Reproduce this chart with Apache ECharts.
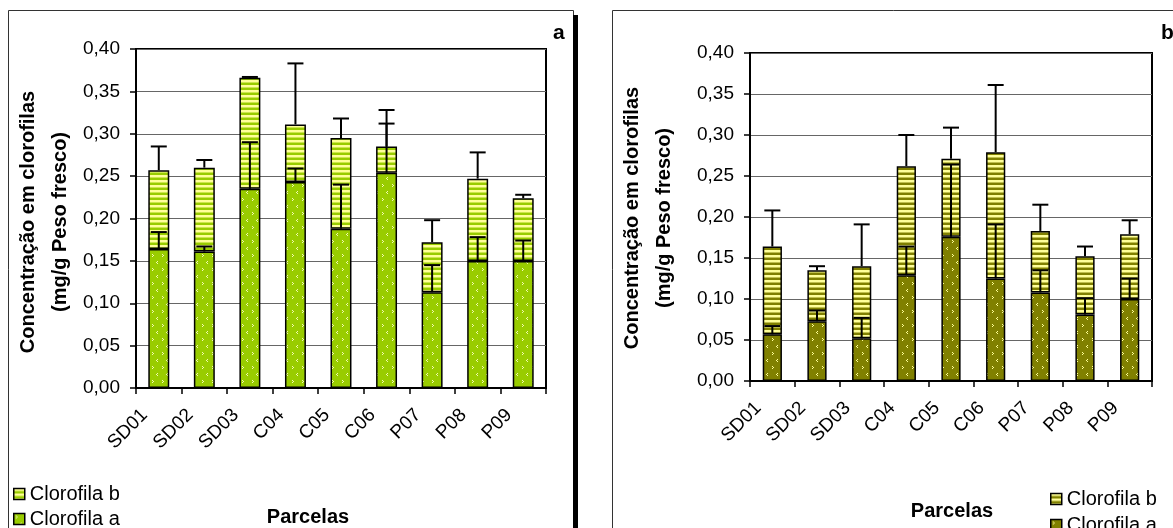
<!DOCTYPE html>
<html>
<head>
<meta charset="utf-8">
<script src="https://cdn.jsdelivr.net/npm/echarts@6/dist/echarts.min.js"></script>
<style>
  html, body { margin: 0; padding: 0; background: #fff; }
  #chart { width: 1173px; height: 528px; }
</style>
</head>
<body>
<div id="chart"></div>
<script>
// Parcelas (plots)
const categories = ['SD01', 'SD02', 'SD03', 'C04', 'C05', 'C06', 'P07', 'P08', 'P09'];

// Panel a — chlorophyll concentration (mg/g fresh weight)
const clorofilaA_a = [0.164, 0.161, 0.235, 0.243, 0.188, 0.254, 0.113, 0.150, 0.150];
const clorofilaB_a = [0.093, 0.099, 0.131, 0.068, 0.107, 0.031, 0.059, 0.097, 0.074];
const erroA_a = [0.020, 0.006, 0.055, 0.016, 0.052, 0.058, 0.032, 0.028, 0.024];
const erroB_a = [0.028, 0.009, 0.001, 0.072, 0.023, 0.043, 0.026, 0.031, 0.004];

// Panel b — chlorophyll concentration (mg/g fresh weight)
const clorofilaA_b = [0.057, 0.073, 0.052, 0.129, 0.176, 0.125, 0.108, 0.081, 0.100];
const clorofilaB_b = [0.107, 0.062, 0.088, 0.133, 0.095, 0.154, 0.075, 0.071, 0.079];
const erroA_b = [0.010, 0.013, 0.025, 0.035, 0.088, 0.066, 0.027, 0.020, 0.025];
const erroB_b = [0.044, 0.005, 0.051, 0.038, 0.038, 0.082, 0.032, 0.012, 0.017];

// Value axis ticks
const yMin = 0, yMax = 0.4, yStep = 0.05;

const FONT = 'Liberation Sans, Arial, sans-serif';

// Fill patterns: horizontal stripes and sparse chevron dots
function stripes(base, light) {
  const cv = document.createElement('canvas');
  cv.width = 4; cv.height = 5;
  const ctx = cv.getContext('2d');
  ctx.fillStyle = base; ctx.fillRect(0, 0, 4, 5);
  ctx.fillStyle = light; ctx.fillRect(0, 0, 4, 2.5);
  return { image: cv, repeat: 'repeat' };
}
function dots(base, light) {
  const cv = document.createElement('canvas');
  cv.width = 10; cv.height = 14;
  const ctx = cv.getContext('2d');
  ctx.fillStyle = base; ctx.fillRect(0, 0, 10, 14);
  ctx.fillStyle = light;
  [[2, 2], [3, 3], [2, 4], [7, 9], [6, 10], [7, 11]].forEach(p => ctx.fillRect(p[0], p[1], 1, 1));
  return { image: cv, repeat: 'repeat' };
}

const green = '#99CC00', olive = '#808000', pale = '#FFFF99';
const stripeA = stripes(green, pale), dotA = dots(green, '#F2F9B0');
const stripeB = stripes(olive, pale), dotB = dots(olive, pale);

const grids = [
  { left: 136, top: 49, width: 410, height: 339 },
  { left: 750, top: 53, width: 402, height: 328 }
];

function xAxisFor(gi) {
  return {
    type: 'category', gridIndex: gi, data: categories,
    axisLine: { lineStyle: { color: '#000', width: 2 } },
    axisTick: { show: true, interval: 0, length: 6, lineStyle: { color: '#000', width: 1.5 } },
    axisLabel: { interval: 0, rotate: 45, margin: 10, padding: [0, 20, 0, 0], color: '#000', fontFamily: FONT, fontSize: 19 }
  };
}
function yAxisFor(gi) {
  return {
    type: 'value', gridIndex: gi, min: yMin, max: yMax, interval: yStep,
    axisLine: { show: true, lineStyle: { color: '#000', width: 2 } },
    axisTick: { show: true, length: 6, lineStyle: { color: '#000', width: 1.5 } },
    axisLabel: { color: '#000', fontFamily: FONT, fontSize: 19, margin: 16,
      formatter: v => v.toFixed(2).replace('.', ',') },
    splitLine: { lineStyle: { color: '#666', width: 1 } }
  };
}

function barSeries(name, gi, data, fill) {
  return {
    name, type: 'bar', stack: 'tot' + gi, xAxisIndex: gi, yAxisIndex: gi,
    data, barWidth: gi === 0 ? '46%' : '43%',
    itemStyle: { color: fill, borderColor: '#000', borderWidth: 1.5 },
    emphasis: { disabled: true }, z: 2
  };
}

// Error bars: line from base value up to base + error, with a cap
function errorSeries(gi, bases, errs) {
  const data = bases.map((b, i) => [i, b, b + errs[i]]);
  return {
    type: 'custom', xAxisIndex: gi, yAxisIndex: gi, z: 5, silent: true,
    data,
    encode: { x: 0, y: [1, 2] },
    renderItem: (params, api) => {
      const p0 = api.coord([api.value(0), api.value(1)]);
      const p1 = api.coord([api.value(0), api.value(2)]);
      const half = 8;
      const st = { stroke: '#000', lineWidth: 2 };
      return {
        type: 'group',
        children: [
          { type: 'line', shape: { x1: p0[0], y1: p0[1], x2: p1[0], y2: p1[1] }, style: st },
          { type: 'line', shape: { x1: p1[0] - half, y1: p1[1], x2: p1[0] + half, y2: p1[1] }, style: st }
        ]
      };
    }
  };
}

const totalA = clorofilaA_a.map((v, i) => v + clorofilaB_a[i]);
const totalB = clorofilaA_b.map((v, i) => v + clorofilaB_b[i]);

const legendText = { color: '#000', fontFamily: FONT, fontSize: 20, lineHeight: 19 };

function legendFor(left, top, gap, fillB, fillA) {
  return {
    orient: 'vertical', left, top, height: 60, itemWidth: 11, itemHeight: 11, itemGap: gap,
    padding: 0, icon: 'rect', textStyle: legendText, selectedMode: false,
    data: [
      { name: 'Clorofila b', itemStyle: { color: fillB, borderColor: '#000', borderWidth: 1.5 } },
      { name: 'Clorofila a', itemStyle: { color: fillA, borderColor: '#000', borderWidth: 1.5 } }
    ]
  };
}

const option = {
  animation: false,
  grid: grids.map(g => Object.assign({ show: true, borderColor: '#000', borderWidth: 2, backgroundColor: 'transparent' }, g)),
  xAxis: [xAxisFor(0), xAxisFor(1)],
  yAxis: [yAxisFor(0), yAxisFor(1)],
  legend: [
    legendFor(13, 484, 5, stripeA, dotA),
    legendFor(1050, 489, 6, stripeB, dotB)
  ],
  series: [
    barSeries('Clorofila a', 0, clorofilaA_a, dotA),
    barSeries('Clorofila b', 0, clorofilaB_a, stripeA),
    errorSeries(0, clorofilaA_a, erroA_a),
    errorSeries(0, totalA, erroB_a),
    barSeries('Clorofila a', 1, clorofilaA_b, dotB),
    barSeries('Clorofila b', 1, clorofilaB_b, stripeB),
    errorSeries(1, clorofilaA_b, erroA_b),
    errorSeries(1, totalB, erroB_b)
  ],
  graphic: [
    // panel frames
    { type: 'rect', z: -1, shape: { x: 8.5, y: 10.5, width: 565, height: 540 }, style: { fill: 'none', stroke: '#333', lineWidth: 1 } },
    { type: 'rect', z: -1, shape: { x: 573, y: 15, width: 5, height: 540 }, style: { fill: '#000' } },
    { type: 'rect', z: -1, shape: { x: 612.5, y: 10.5, width: 620, height: 540 }, style: { fill: 'none', stroke: '#333', lineWidth: 1 } },
    // panel letters
    { type: 'text', x: 553, y: 23, style: { text: 'a', fontFamily: FONT, fontWeight: 'bold', fontSize: 21, fill: '#000' } },
    { type: 'text', x: 1161, y: 23, style: { text: 'b', fontFamily: FONT, fontWeight: 'bold', fontSize: 21, fill: '#000' } },
    // y-axis titles
    { type: 'text', x: 44, y: 222, rotation: Math.PI / 2,
      style: { text: 'Concentração em clorofilas\n(mg/g Peso fresco)', fontFamily: FONT, fontWeight: 'bold', fontSize: 20, lineHeight: 32, align: 'center', verticalAlign: 'middle', fill: '#000' } },
    { type: 'text', x: 648, y: 218, rotation: Math.PI / 2,
      style: { text: 'Concentração em clorofilas\n(mg/g Peso fresco)', fontFamily: FONT, fontWeight: 'bold', fontSize: 20, lineHeight: 32, align: 'center', verticalAlign: 'middle', fill: '#000' } },
    // x-axis titles
    { type: 'text', x: 308, y: 517, style: { text: 'Parcelas', fontFamily: FONT, fontWeight: 'bold', fontSize: 20, align: 'center', verticalAlign: 'middle', fill: '#000' } },
    { type: 'text', x: 952, y: 511, style: { text: 'Parcelas', fontFamily: FONT, fontWeight: 'bold', fontSize: 20, align: 'center', verticalAlign: 'middle', fill: '#000' } }
  ]
};

const chart = echarts.init(document.getElementById('chart'), null, { renderer: 'canvas' });
chart.setOption(option);
</script>
</body>
</html>
